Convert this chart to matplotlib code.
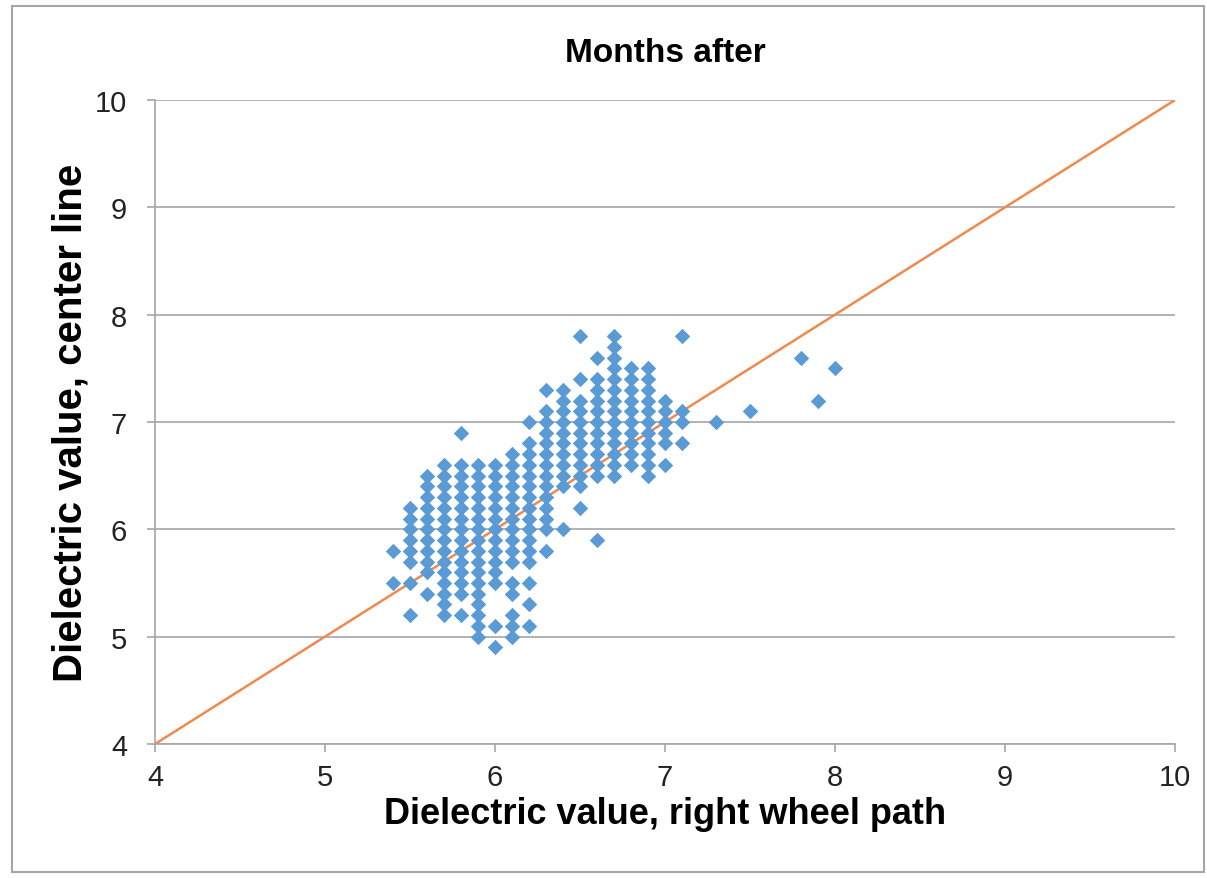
import matplotlib
matplotlib.use('Agg')
import matplotlib.pyplot as plt
from matplotlib.patches import Rectangle

plt.rcParams['font.family'] = ['Liberation Sans', 'DejaVu Sans']

# readings per column: x value -> list of y values (step 0.1)
col_x = [5.4, 5.5, 5.6, 5.7, 5.8, 5.9, 6.0, 6.1, 6.2, 6.3, 6.4,
         6.5, 6.6, 6.7, 6.8, 6.9, 7.0, 7.1, 7.3, 7.5, 7.8, 7.9, 8.0]
col_top = [None, 6.2, 6.5, 6.6, 6.6, 6.6, 6.6, 6.7, 6.8, 7.1, 7.3,
           7.2, 7.4, 7.8, 7.5, 7.5, None, None, None, None, None, None, None]
col_bottom = [None, 5.7, 5.6, 5.2, 5.4, 5.0, 5.5, 5.7, 5.7, 6.0, 6.4,
              6.4, 6.5, 6.5, 6.6, 6.5, None, None, None, None, None, None, None]
col_extra = [[5.8, 5.5], [5.5, 5.2], [5.4], [], [6.9, 5.2], [], [5.1, 4.9],
             [5.5, 5.4, 5.2, 5.1, 5.0], [7.0, 5.5, 5.3, 5.1], [7.3, 5.8],
             [6.0], [7.8, 7.4, 6.2], [7.6, 5.9], [], [], [],
             [7.2, 7.1, 7.0, 6.9, 6.8, 6.6], [7.8, 7.1, 7.0, 6.8],
             [7.0], [7.1], [7.6], [7.2], [7.5]]

line_x = [4, 10]
line_y = [4, 10]

xs = []
ys = []
for i in range(len(col_x)):
    if col_top[i] is not None:
        n = int(round((col_top[i] - col_bottom[i]) * 10))
        for k in range(n + 1):
            xs.append(col_x[i])
            ys.append(round(col_bottom[i] + k * 0.1, 1))
    for v in col_extra[i]:
        xs.append(col_x[i])
        ys.append(v)

fig = plt.figure(figsize=(12.07, 8.79), dpi=100)
ax = fig.add_axes([155/1207, 1 - 745/879, (1175-155)/1207, (745-101)/879])

ax.scatter(xs, ys, marker='D', s=62, color='#5B9BD5', linewidths=0, zorder=3)
ax.plot(line_x, line_y, color='#EE8A4E', lw=1.8, zorder=2)

ax.set_xlim(4, 10)
ax.set_ylim(4, 10)
ax.set_xticks(range(4, 11))
ax.set_yticks(range(4, 11))
ax.grid(axis='y', color='#A6A6A6', lw=1.2, zorder=0)
ax.set_axisbelow(True)
for s in ['top', 'right']:
    ax.spines[s].set_visible(False)
for s in ['left', 'bottom']:
    ax.spines[s].set_color('#A6A6A6')
    ax.spines[s].set_linewidth(1.2)
ax.tick_params(axis='both', colors='#A6A6A6', labelcolor='#222222',
               labelsize=21, length=6, width=1.2, direction='out')
ax.tick_params(axis='y', pad=14)
ax.tick_params(axis='x', pad=8)

ax.set_title('Months after', fontsize=24, fontweight='bold', pad=28)
ax.set_xlabel('Dielectric value, right wheel path', fontsize=26, fontweight='bold', labelpad=3)
ax.set_ylabel('Dielectric value, center line', fontsize=29, fontweight='bold', labelpad=4)

fig.patches.append(Rectangle((12/1207, 1 - 873/879), (1204-12)/1207, (873-7)/879,
                             transform=fig.transFigure, fill=False,
                             edgecolor='#A6A6A6', lw=1.5))

fig.savefig('out.png', dpi=100)
